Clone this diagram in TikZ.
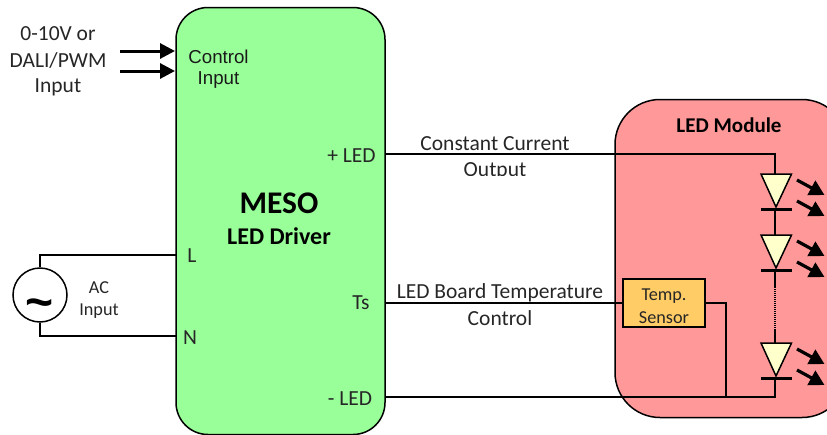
\documentclass[tikz,border=0pt]{standalone}
\usepackage{fontspec}
\setmainfont{Carlito}
\newfontfamily\arialf{Liberation Sans}
\usetikzlibrary{arrows.meta,calc}
\definecolor{drvgreen}{HTML}{99FF99}
\definecolor{modred}{HTML}{FF9999}
\definecolor{senorange}{HTML}{FFCC66}
\definecolor{ledyellow}{HTML}{FFFFCC}
\tikzset{
  wire/.style={draw=black,line width=1.6pt},
  label/.style={inner sep=0pt,font=\fontsize{21.5}{21.5}\selectfont,text=black!85},
  smalllabel/.style={inner sep=0pt,font=\fontsize{18.2}{18.2}\selectfont,text=black!85},
  portlabel/.style={inner sep=0pt,font=\arialf\fontsize{18.7}{18.7}\selectfont,text=black!90},
  thick arrow/.style={draw=black,line width=3pt,-{Triangle[length=15pt,width=15pt]}},
  light arrow/.style={draw=black,line width=3.2pt,-{Triangle[length=15pt,width=16pt]}},
  ledbody/.style={draw=black,line width=1.5pt,fill=ledyellow,line join=miter},
  ledbar/.style={draw=black,line width=3pt},
}
\newcommand{\ledsym}[2]{%
  \coordinate (#1in) at (775,#2);
  \coordinate (#1out) at (775,#2+35);
  \draw[ledbody] (761,#2) -- (791.5,#2) -- (776,#2+33) -- cycle;
  \draw[ledbar] (761,#2+35) -- (791.5,#2+35);
  \coordinate (#1a1) at (797,#2+6);
  \coordinate (#1b1) at (824.5,#2+21);
  \coordinate (#1a2) at (797,#2+27);
  \coordinate (#1b2) at (824.5,#2+42);
  \draw[light arrow] (#1a1) -- (#1b1);
  \draw[light arrow] (#1a2) -- (#1b2);
}
\begin{document}
\begin{tikzpicture}[x=1pt,y=-1pt]
\useasboundingbox (0,0) rectangle (827,434);
\clip (0,0) rectangle (827,434);
% blocks
\node[draw=black,line width=1.5pt,fill=modred,rounded corners=45pt,minimum width=232pt,minimum height=318pt,inner sep=0pt] (module) at (731,258.5) {};
\node[draw=black,line width=1.5pt,fill=drvgreen,rounded corners=32pt,minimum width=209pt,minimum height=427pt,inner sep=0pt] (driver) at (280.5,221) {};
\node[draw=black,line width=1.5pt,fill=senorange,minimum width=82pt,minimum height=48pt,inner sep=0pt] (sensor) at (664,303) {};
\node[smalllabel] (t1) at (664,296) {Temp.};
\node[smalllabel] (t2) at (664,318) {Sensor};
% LED chain
\coordinate (junction) at (726,397);
\coordinate (topcorner) at (775,154);
\coordinate (botcorner) at (775,397);
\coordinate (dota) at (775,287);
\coordinate (dotb) at (775,330);
\ledsym{ledA}{174}
\ledsym{ledB}{235}
\ledsym{ledC}{343}
\coordinate (plus) at (385,154);
\coordinate (temp) at (385,303);
\coordinate (minus) at (385,397);
\draw[wire] (plus) -- (topcorner) -- (ledAin);
\draw[wire] (ledAout) -- (ledBin);
\draw[wire] (ledBout) -- (dota);
\draw[line width=1.8pt,dash pattern=on 1pt off 1pt] (dota) -- (dotb);
\draw[wire] (dotb) -- (ledCin);
\draw[wire] (ledCout) -- (botcorner) -- (minus);
\draw[wire] (temp) -- (sensor.west);
\draw[wire] (sensor.east) -- (726,303) -- (junction);
% AC source
\node[draw=black,line width=1.5pt,fill=white,circle,minimum size=54pt,inner sep=0pt] (ac) at (40,295) {};
\node[inner sep=0pt,font=\arialf\bfseries\fontsize{48}{48}\selectfont] (tilde) at (40,309) {\symbol{126}};
\coordinate (portL) at (176,255);
\coordinate (portN) at (176,336);
\draw[wire] (ac.north) |- (portL);
\draw[wire] (ac.south) |- (portN);
\node[smalllabel] (acA) at (99,288) {AC};
\node[smalllabel] (acB) at (99,311) {Input};
% control input
\coordinate (ctlA) at (120,51);
\coordinate (ctlB) at (120,71);
\coordinate (ctlAe) at (175,51);
\coordinate (ctlBe) at (175,71);
\draw[thick arrow] (ctlA) -- (ctlAe);
\draw[thick arrow] (ctlB) -- (ctlBe);
% labels
\node[label] (i1) at (58,34) {0-10V or};
\node[label] (i2) at (58,60) {DALI/PWM};
\node[label] (i3) at (58,87) {Input};
\node[portlabel] (c1) at (218.5,57) {Control};
\node[portlabel] (c2) at (218.5,80) {Input};
\node[label] (pl) at (351.5,156) {+ LED};
\node[label] (ml) at (350,399) {- LED};
\node[label] (ts) at (361,303) {Ts};
\node[label] (ll) at (192,256) {L};
\node[label] (nn) at (190,338) {N};
\node[inner sep=0pt,font=\fontsize{31.5}{31.5}\selectfont\bfseries] (meso) at (279,203) {MESO};
\node[inner sep=0pt,font=\fontsize{24}{24}\selectfont\bfseries] (drv) at (279,236) {LED Driver};
\node[inner sep=0pt,font=\fontsize{21}{21}\selectfont\bfseries] (modt) at (729,125) {LED Module};
\node[label] (cc) at (495,144) {Constant Current};
\begin{scope}
\clip (400,155) rectangle (600,175.5);
\node[label] (out) at (495,171) {Output};
\end{scope}
\node[label] (bt) at (500,292.5) {LED Board Temperature};
\node[label] (ct) at (500,318) {Control};
\end{tikzpicture}
\end{document}
